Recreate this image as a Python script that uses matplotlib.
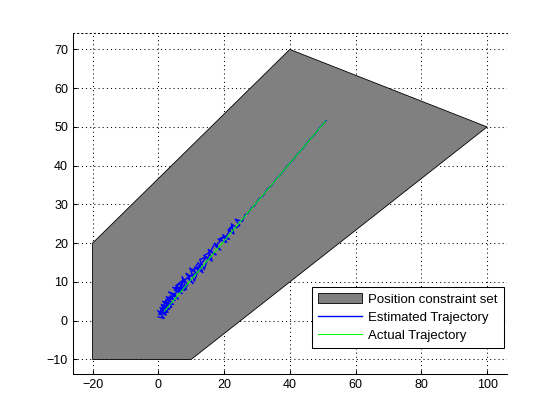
import numpy as np
import matplotlib.pyplot as plt
from matplotlib.patches import Polygon

# constraint polygon vertices
poly_x = [-20, 40, 100, 10, -20]
poly_y = [20, 70, 50, -10, -10]

# actual trajectory
act_x = [1.9, 2.0, 2.2, 2.4, 2.7, 3.0, 3.4, 3.8, 4.3, 4.8, 5.4, 6.0, 6.7, 7.4, 8.2,
         9.0, 9.9, 10.8, 11.8, 12.8, 13.9, 15.0, 16.2, 17.4, 18.7, 20.0, 21.4, 22.8,
         24.3, 25.8, 27.4, 29.0, 30.7, 32.4, 34.2, 36.0, 37.9, 39.8, 41.8, 43.8,
         45.9, 48.0, 50.2, 50.9]
act_y = [2.5, 2.6, 2.8, 3.0, 3.3, 3.6, 4.0, 4.4, 4.9, 5.4, 6.0, 6.6, 7.3, 8.0, 8.8,
         9.6, 10.5, 11.4, 12.4, 13.4, 14.5, 15.6, 16.8, 18.0, 19.3, 20.6, 22.0, 23.4,
         24.9, 26.4, 28.0, 29.6, 31.3, 33.0, 34.8, 36.6, 38.5, 40.4, 42.4, 44.4,
         46.5, 48.6, 50.8, 51.5]

# estimated trajectory
est_x = [0.0, 1.8, -0.2, 2.4, 0.5, 3.0, 0.2, 1.6, 3.4, 0.9,
         2.2, 4.1, 1.3, 3.0, 0.6, 2.5, 4.6, 1.9, 3.6, 5.2,
         2.4, 4.0, 1.8, 4.6, 6.1, 3.1, 5.2, 3.6, 6.4, 4.4,
         7.3, 5.0, 6.2, 8.1, 5.3, 7.4, 6.4, 9.0, 7.2, 8.6,
         6.9, 9.8, 8.4, 10.6, 8.9, 11.5, 9.6, 11.0, 12.6, 10.4,
         12.2, 13.6, 11.8, 14.6, 12.6, 14.0, 15.6, 13.8, 16.4, 15.2,
         17.6, 15.9, 17.2, 19.0, 17.4, 19.8, 18.2, 20.8, 19.6, 21.6,
         20.4, 22.6, 21.2, 23.0, 22.2, 23.8, 24.8, 23.4, 25.6, 26.4,
         27.2, 28.4, 29.2, 30.6, 31.8, 33.2, 34.4, 36.0, 37.6, 39.2,
         40.8, 42.4, 44.0, 45.6, 47.4, 49.2, 51.0]
est_y = [1.0, 0.6, 2.6, 1.4, 3.4, 2.2, 1.6, 3.8, 3.0, 4.2,
         2.4, 3.6, 5.0, 4.4, 2.0, 5.6, 4.2, 4.4, 6.4, 5.2,
         6.2, 4.8, 3.0, 7.0, 5.6, 7.4, 6.8, 5.6, 8.2, 8.6,
         7.0, 7.8, 9.6, 7.8, 9.0, 10.4, 7.4, 9.2, 11.4, 8.0,
         9.8, 11.6, 12.2, 9.6, 11.0, 12.4, 13.6, 10.2, 14.2, 12.8,
         15.0, 12.4, 13.4, 16.4, 15.8, 13.2, 17.6, 16.8, 15.4, 18.4,
         17.0, 17.8, 20.0, 18.2, 19.2, 21.6, 21.0, 20.2, 22.2, 21.0,
         21.4, 24.6, 23.4, 22.4, 25.0, 24.0, 24.6, 26.2, 25.6, 27.4,
         27.6, 29.2, 29.6, 31.4, 32.2, 34.0, 34.9, 36.7, 38.1, 39.9,
         41.3, 43.1, 44.5, 46.3, 47.9, 49.9, 51.6]

plt.rcParams['font.family'] = ['Liberation Sans', 'DejaVu Sans']
plt.rcParams['font.size'] = 9

fig = plt.figure(figsize=(5.6, 4.2), dpi=100)
ax = fig.add_axes([0.130, 0.110, 0.775, 0.812])

patch = Polygon(np.column_stack([poly_x, poly_y]), closed=True,
                facecolor=(0.5, 0.5, 0.5), edgecolor='black', linewidth=0.6,
                label='Position constraint set')
ax.add_patch(patch)
ax.plot(est_x, est_y, color=(0, 0, 1), linewidth=1.0, label='Estimated Trajectory')
ax.plot(act_x, act_y, color=(0, 1, 0), linewidth=0.75, label='Actual Trajectory')

ax.set_xlim(-26, 106)
ax.set_ylim(-13.7, 74.3)
ax.set_xticks(range(-20, 101, 20))
ax.set_yticks(range(-10, 71, 10))

ax.grid(True, color='black', linestyle=(0, (1, 3)), linewidth=0.75)
ax.set_axisbelow(True)
ax.tick_params(direction='in', length=3, width=0.75, colors='black')
ax.spines['right'].set_visible(False)
ax.spines['top'].set_linestyle((0, (1, 3)))
ax.spines['top'].set_linewidth(0.75)
ax.spines['left'].set_linewidth(0.75)
ax.spines['bottom'].set_linewidth(0.75)

leg = ax.legend(loc='lower right', bbox_to_anchor=(0.993, 0.076), borderaxespad=0,
                fancybox=False, framealpha=1, edgecolor='black', handlelength=3.4,
                handletextpad=0.45, labelspacing=0.45, borderpad=0.45, fontsize=9.5)
leg.get_frame().set_linewidth(0.75)

fig.savefig('out.png', dpi=100)
